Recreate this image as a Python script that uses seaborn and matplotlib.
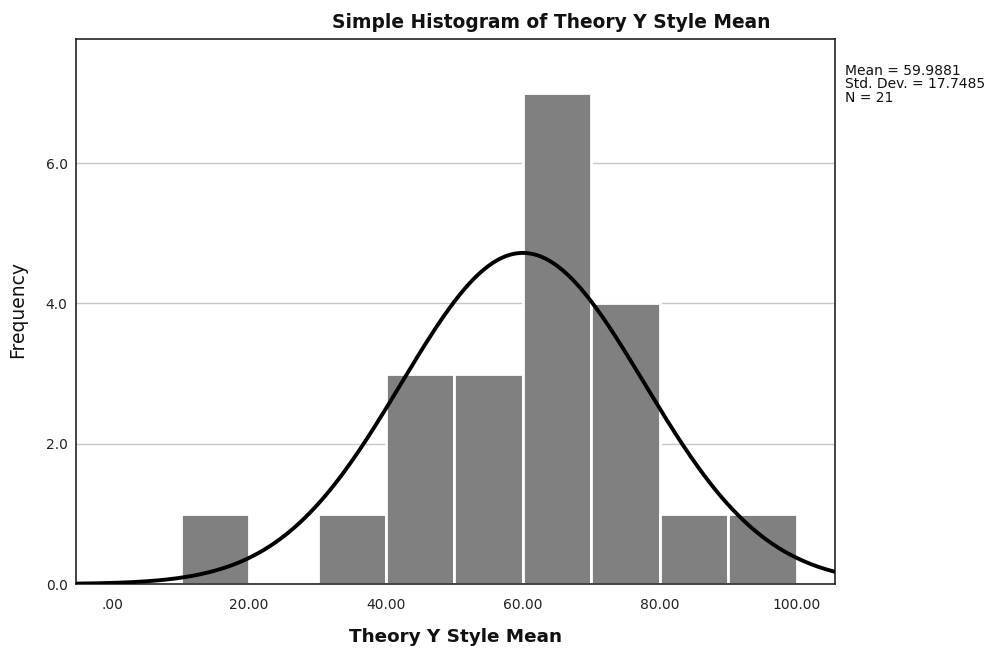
import numpy as np
import pandas as pd
import matplotlib
matplotlib.use("Agg")
import matplotlib.pyplot as plt
import seaborn as sns

# Data
bin_edges = [10, 20, 30, 40, 50, 60, 70, 80, 90, 100]
bin_counts = [1, 0, 1, 3, 3, 7, 4, 1, 1]
mean_val = 59.9881
sd_val = 17.7485
n_val = 21
x_ticks = [0, 20, 40, 60, 80, 100]
x_tick_labels = [".00", "20.00", "40.00", "60.00", "80.00", "100.00"]
y_ticks = [0, 2, 4, 6]
y_tick_labels = ["0.0", "2.0", "4.0", "6.0"]

sns.set_theme(style="white")
plt.rcParams['font.family'] = ['DejaVu Sans']

fig = plt.figure(figsize=(9.87, 6.51), dpi=100)
ax = fig.add_axes([76/987, 1 - 584/651, (835-76)/987, (584-39)/651])

mids = [(bin_edges[i] + bin_edges[i+1]) / 2 for i in range(len(bin_counts))]
df = pd.DataFrame({"x": mids, "w": bin_counts})

# grid lines behind bars
for yt in [2, 4, 6]:
    ax.axhline(yt, color="#c8c8c8", lw=1.0, zorder=0)

sns.histplot(data=df, x="x", weights="w", bins=bin_edges, color="#808080",
             edgecolor="white", linewidth=2.0, alpha=1.0, ax=ax, zorder=2)

# Normal curve
xs = np.linspace(-5.3, 105.6, 400)
bw = bin_edges[1] - bin_edges[0]
ys = n_val * bw / (sd_val * np.sqrt(2 * np.pi)) * np.exp(-0.5 * ((xs - mean_val) / sd_val) ** 2)
sns.lineplot(x=xs, y=ys, color="black", lw=2.8, ax=ax, zorder=3)

ax.set_xlim(-5.3, 105.6)
ax.set_ylim(0, 7.77)
ax.set_xticks(x_ticks)
ax.set_xticklabels(x_tick_labels, fontsize=10, color="#222222")
ax.set_yticks(y_ticks)
ax.set_yticklabels(y_tick_labels, fontsize=10, color="#222222")
ax.tick_params(axis="x", length=0, pad=10)
ax.tick_params(axis="y", length=0, pad=6)
for s in ax.spines.values():
    s.set_visible(True)
    s.set_color("#222222")
    s.set_linewidth(1.2)

ax.set_xlabel("")
ax.set_ylabel("")
fig.text(456/987, 1 - 637/651, "Theory Y Style Mean", ha="center", va="center",
         fontsize=13.2, fontweight="bold", color="#111111")
fig.text(18/987, 1 - 310/651, "Frequency", ha="center", va="center",
         rotation=90, fontsize=13.5, color="#111111")
fig.text(551/987, 1 - 22/651, "Simple Histogram of Theory Y Style Mean",
         ha="center", va="center", fontsize=13.4, fontweight="bold", color="#111111")
fig.text(845/987, 1 - 64/651,
         f"Mean = {mean_val:.4f}\nStd. Dev. = {sd_val:.4f}\nN = {n_val}",
         ha="left", va="top", fontsize=10, color="#111111", linespacing=0.95)

fig.savefig("out.png", dpi=100)
